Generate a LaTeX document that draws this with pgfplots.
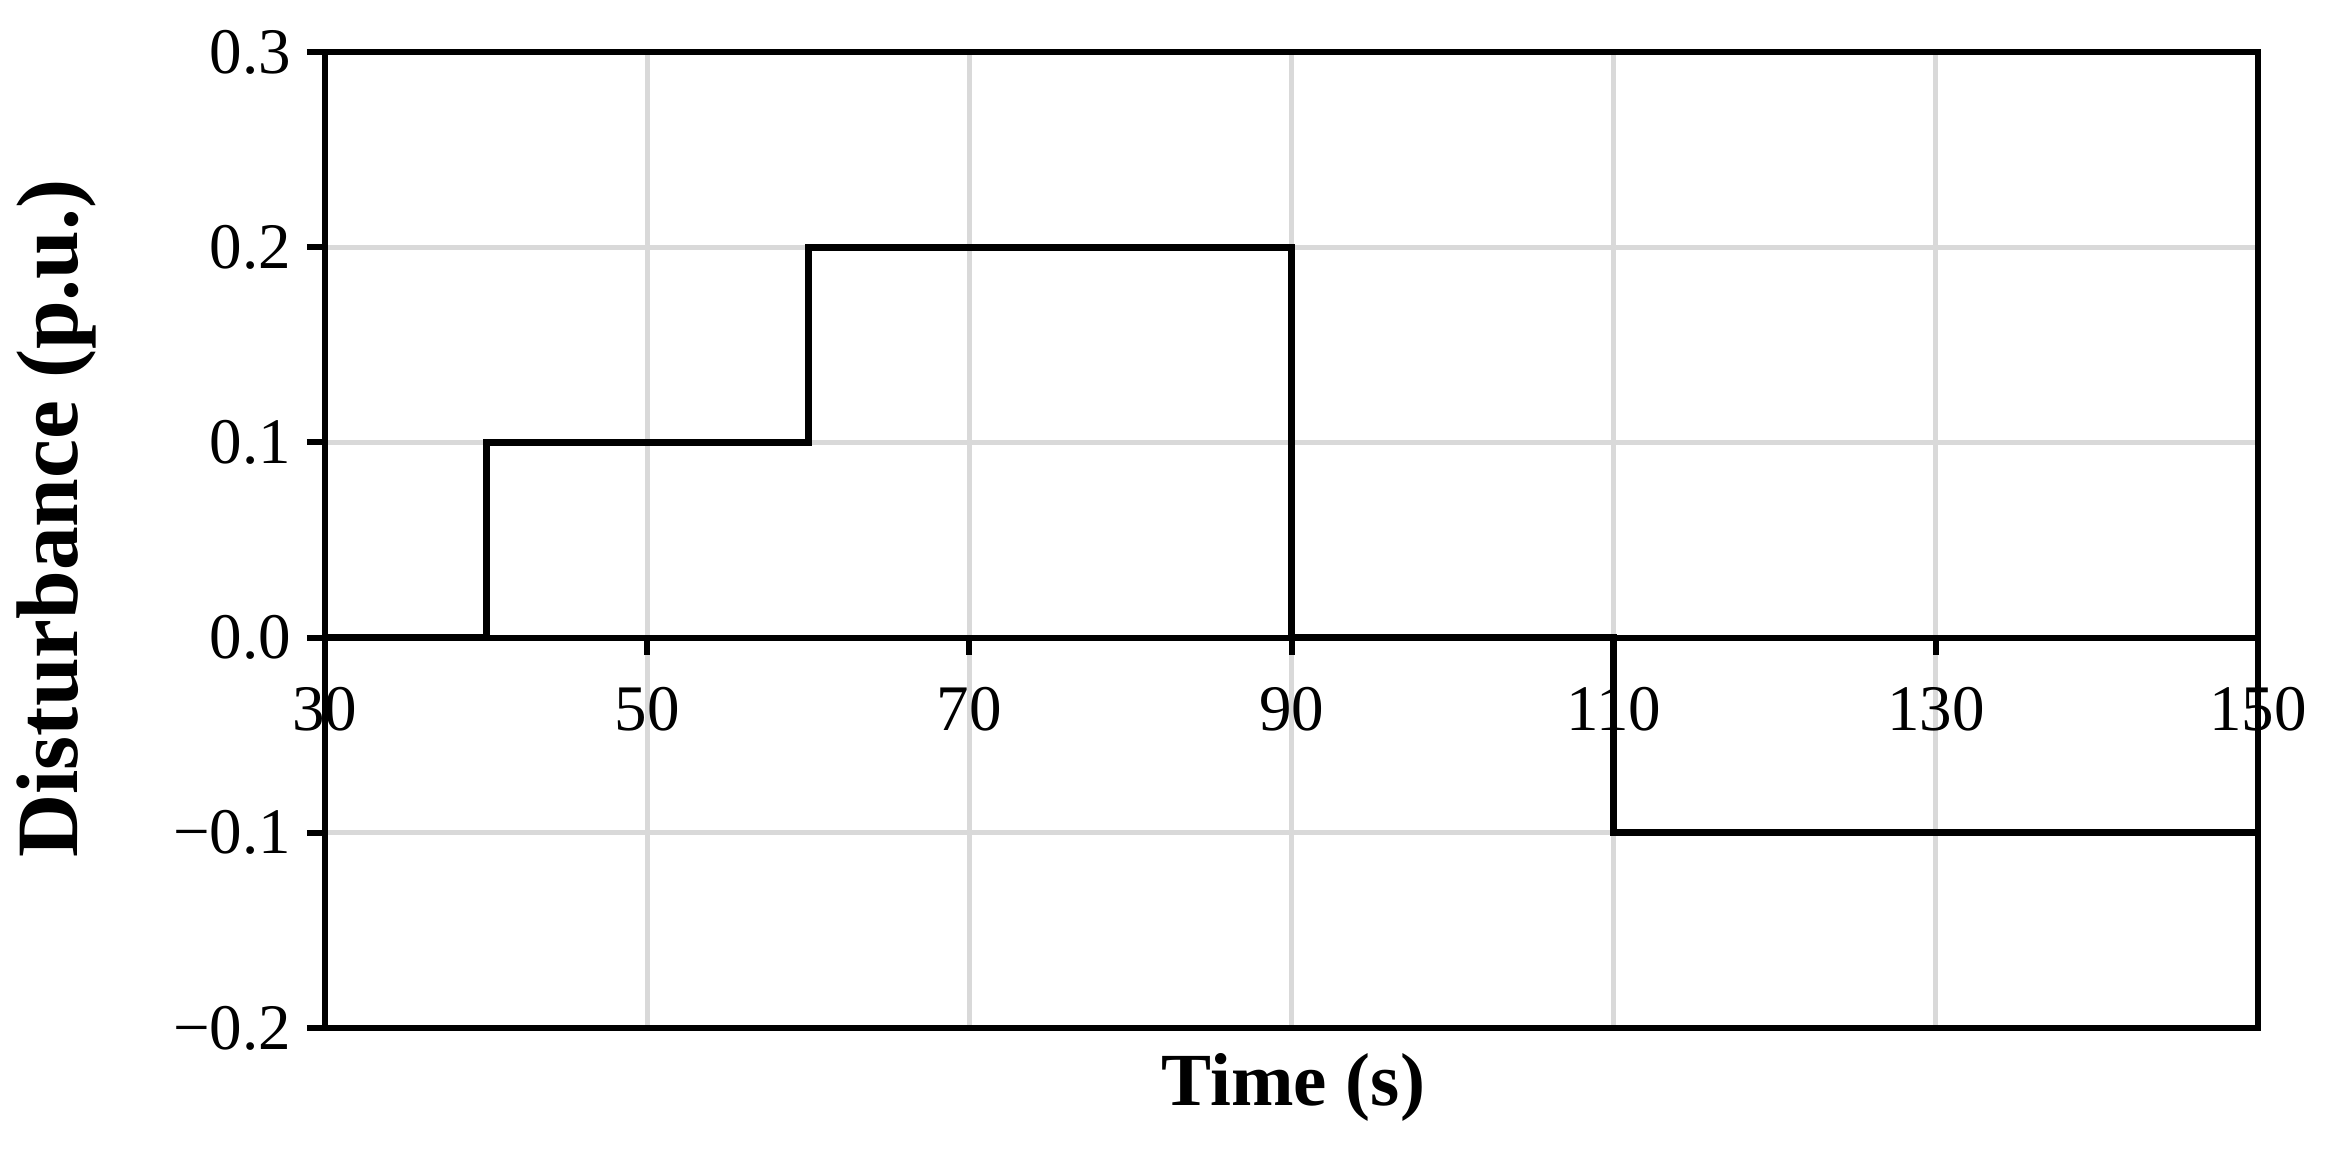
\documentclass[border=0pt]{standalone}
\usepackage{fontspec}
\setmainfont{Liberation Serif}
\usepackage{pgfplots}
\pgfplotsset{compat=1.18}
\definecolor{gridgray}{HTML}{D9D9D9}
\begin{document}
\begin{tikzpicture}
\useasboundingbox (-65pt,-24.8pt) rectangle (400pt,205.6pt);
\begin{axis}[
 at={(0,0)}, anchor=south west,
 scale only axis, width=386.6pt, height=195.2pt,
 xmin=30, xmax=150, ymin=-0.2, ymax=0.3,
 xtick={30,50,...,150}, xticklabels={},
 xtick style={draw=none},
 ytick={-0.2,-0.1,0,0.1,0.2,0.3},
 yticklabels={−0.2,−0.1,0.0,0.1,0.2,0.3},
 ytick pos=left, tick align=outside,
 major tick length=3.6pt,
 ytick style={line width=1.2pt, black},
 grid=major, major grid style={gridgray, line width=1pt},
 axis line style={line width=1.2pt, black},
 yticklabel style={font=\fontsize{13pt}{15pt}\selectfont, inner sep=0pt, xshift=-3pt},
 ylabel={Disturbance (p.u.)},
 ylabel style={at={(axis description cs:-0.139,0.522)}, anchor=center, font=\fontsize{17.5pt}{20pt}\selectfont\bfseries},
 xlabel={Time (s)},
 xlabel style={at={(axis description cs:0.501,-0.0605)}, anchor=center, font=\fontsize{15pt}{18pt}\selectfont\bfseries},
]
\end{axis}
\begin{axis}[
 at={(0,0)}, anchor=south west,
 scale only axis, width=386.6pt, height=195.2pt,
 xmin=30, xmax=150, ymin=-0.2, ymax=0.3,
 axis x line=middle, axis y line=none,
 hide obscured x ticks=false,
 axis line style={-, line width=1.2pt, black},
 x axis line style={-},
 xtick={30,50,...,150},
 tick align=center,
 major tick length=3.4pt,
 xtick style={line width=1.2pt, black, yshift=-1.7pt},
 xticklabel style={font=\fontsize{13pt}{15pt}\selectfont, anchor=north, inner sep=0pt, yshift=-8pt},
 /pgf/number format/assume math mode=true,
]
\addplot[line width=1.4pt, black] coordinates {
(30,0) (40,0) (40,0.1) (60,0.1) (60,0.2) (90,0.2) (90,0) (110,0) (110,-0.1) (150,-0.1)
};
\end{axis}
\end{tikzpicture}
\end{document}
